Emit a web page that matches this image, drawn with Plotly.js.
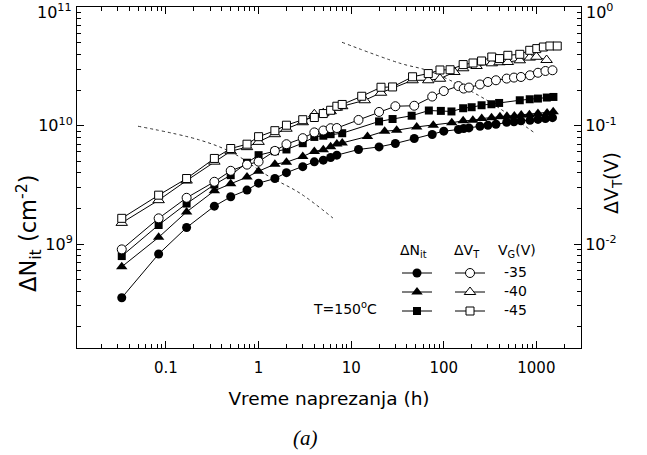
<!DOCTYPE html>
<html><head><meta charset="utf-8">
<script src="https://cdn.plot.ly/plotly-3.0.1.min.js"></script>
<style>html,body{margin:0;padding:0;background:#fff}#chart{width:647px;height:455px}</style>
</head><body><div id="chart"></div>
<script>
// ---- data (stress time in hours) ----
const t35 = [0.0333,0.0833,0.167,0.333,0.5,0.75,1,1.5,2,3,4,5,6,7,12,20,30,48,75,100,144,164,187,246,300,366,478,573,682,853,1041,1253,1493];
const nit35 = [3.52e8,8.24e8,1.38e9,2.09e9,2.51e9,2.86e9,3.27e9,3.58e9,4.01e9,4.51e9,4.95e9,5.12e9,5.39e9,5.64e9,6.30e9,6.62e9,7.08e9,7.80e9,8.43e9,8.99e9,9.29e9,9.47e9,9.58e9,9.90e9,1.01e10,1.03e10,1.07e10,1.08e10,1.10e10,1.11e10,1.13e10,1.15e10,1.17e10];
const vt35 = [9.02e-3,1.65e-2,2.46e-2,3.36e-2,4.16e-2,4.69e-2,4.97e-2,6.13e-2,6.98e-2,7.85e-2,8.78e-2,9.11e-2,9.53e-2,9.56e-2,0.1119,0.1307,0.1461,0.1475,0.1764,0.1963,0.2163,0.2060,0.2101,0.2231,0.2342,0.2421,0.2502,0.2551,0.2581,0.2668,0.2802,0.2901,0.2941];

const t40N = [0.0333,0.0833,0.167,0.333,0.5,0.75,1,1.5,2,3,4,5,6,7,8,15,23,31,51,77,122,162,206,257,328,404,481,578,686,841,1040,1305,1520];
const nit40 = [6.43e8,1.14e9,1.87e9,2.82e9,3.23e9,3.68e9,4.13e9,4.73e9,4.92e9,5.50e9,6.07e9,6.27e9,6.63e9,7.02e9,7.16e9,8.11e9,8.99e9,9.16e9,9.77e9,1.01e10,1.06e10,1.10e10,1.11e10,1.15e10,1.17e10,1.19e10,1.20e10,1.21e10,1.23e10,1.24e10,1.27e10,1.28e10,1.31e10];

const t40V = [0.0333,0.0833,0.167,0.333,0.5,0.75,1,1.5,2,3,4,5,6,7,8,14,21,46,68,91,130,162,226,330,400,492,662,848,1000,1290];
const vt40 = [1.51e-2,2.35e-2,3.44e-2,4.97e-2,6.09e-2,6.59e-2,7.30e-2,8.48e-2,9.43e-2,0.107,0.125,0.1275,0.1326,0.1419,0.1461,0.1641,0.1899,0.2421,0.2421,0.2493,0.2844,0.3057,0.3196,0.3368,0.3435,0.3455,0.3571,0.3764,0.3823,0.3592];

const t45N = [0.0333,0.0833,0.167,0.333,0.5,0.75,1,1.5,2,3,4,5,6,8,20,28,45,69,93,121,162,200,256,327,396,662,848,1040,1296,1528];
const nit45 = [7.92e8,1.45e9,2.20e9,3.18e9,3.82e9,4.87e9,5.64e9,6.09e9,6.30e9,7.12e9,8.04e9,8.23e9,8.48e9,8.64e9,1.087e10,1.139e10,1.215e10,1.344e10,1.334e10,1.32e10,1.405e10,1.433e10,1.489e10,1.518e10,1.557e10,1.641e10,1.673e10,1.696e10,1.730e10,1.750e10];

const t45V = [0.0333,0.0833,0.167,0.333,0.5,0.75,1,1.5,2,3,4,5,6,7,8,13,21,28,46,68,91,117,162,207,256,330,400,492,662,848,1010,1190,1400,1680];
const vt45 = [1.65e-2,2.59e-2,3.58e-2,5.29e-2,6.42e-2,6.98e-2,8.08e-2,9.08e-2,0.101,0.1124,0.1173,0.1267,0.1351,0.1461,0.1512,0.1774,0.2113,0.2126,0.2591,0.2758,0.2958,0.2970,0.3285,0.3388,0.3523,0.3807,0.3691,0.3935,0.4012,0.4336,0.4482,0.4624,0.4714,0.4714];

// dotted guide curves (on the ΔNit axis)
const guide1T = [0.0499,0.233,0.53,1.23,2.8,6.35];
const guide1N = [9.9e9,7.56e9,5.87e9,3.82e9,2.69e9,1.66e9];
const guide2T = [7.96,33.7,65.9,117,293,482,966];
const guide2N = [5.07e10,3.37e10,2.94e10,2.42e10,1.64e10,1.27e10,8.65e9];

const vgLabels = ['-35','-40','-45'];
const xTickVals = [0.1,1,10,100,1000];
const xTickText = ['0.1','1','10','100','1000'];
const yTickVals = [1e9,1e10,1e11];
const yTickText = ['10<sup>9</sup>','10<sup>10</sup>','10<sup>11</sup>'];
const y2TickVals = [0.01,0.1,1];
const y2TickText = ['10<sup>-2</sup>','10<sup>-1</sup>','10<sup>0</sup>'];

// ---- helpers ----
function minorVals(lo, hi){
  const v=[];
  for(let d=Math.floor(lo); d<=Math.ceil(hi); d++){
    for(let k=2;k<=9;k++){ const x=k*Math.pow(10,d); const l=Math.log10(x); if(l>lo && l<hi) v.push(x); }
  }
  return v;
}
const FONT = '"DejaVu Sans", Verdana, sans-serif';
const XR=[-1.961,3.482], YR=[8.122,11.003], Y2R=[-2.878,0.003];
const PL=77, PT=7, PW=504, PH=341;
const px = (x)=> (x-PL)/PW;          // pixel -> paper x
const py = (y)=> (PT+PH-y)/PH;       // pixel -> paper y

function nitTrace(t,y,sym,size){
  return {x:t,y:y,type:'scatter',mode:'lines+markers',name:'',legend:'legend',
    line:{color:'#000',width:1},marker:{symbol:sym,size:size,color:'#000',line:{width:0}}};
}
function vtTrace(t,y,sym,size){
  return {x:t,y:y,yaxis:'y2',type:'scatter',mode:'lines+markers',name:'',legend:'legend2',
    line:{color:'#000',width:1},marker:{symbol:sym,size:size,color:'#fff',line:{color:'#000',width:1}}};
}
const guideStyle = {color:'#333',width:1,dash:'dot',shape:'spline'};
const data = [
  {x:guide1T,y:guide1N,type:'scatter',mode:'lines',line:guideStyle,showlegend:false,hoverinfo:'skip'},
  {x:guide2T,y:guide2N,type:'scatter',mode:'lines',line:guideStyle,showlegend:false,hoverinfo:'skip'},
  nitTrace(t35,nit35,'circle',9),
  nitTrace(t40N,nit40,'triangle-up',10),
  nitTrace(t45N,nit45,'square',8),
  vtTrace(t35,vt35,'circle',9),
  vtTrace(t40V,vt40,'triangle-up',10),
  vtTrace(t45V,vt45,'square',8)
];

const axCommon = {type:'log',showgrid:false,zeroline:false,showline:true,linecolor:'#000',linewidth:1,
  ticks:'inside',ticklen:7,tickwidth:1,tickcolor:'#000',tickfont:{family:FONT,size:15,color:'#000'},ticklabeloverflow:'allow'};
const minorStyle = {tickmode:'array',ticks:'inside',ticklen:4,tickcolor:'#000',showgrid:false};

function note(x,y,text,size,extra){
  return Object.assign({xref:'paper',yref:'paper',x:px(x),y:py(y),text:text,showarrow:false,
    xanchor:'center',yanchor:'middle',font:{family:FONT,size:size,color:'#000'}},extra||{});
}
// the top decade labels sit at the very edge of the figure; they are drawn
// a few pixels lower (as in the original) so that they stay fully visible
const yTickShown = yTickText.slice(0,2).concat(['']);
const y2TickShown = y2TickText.slice(0,2).concat(['']);

const layout = {
  width:647,height:455,margin:{l:77,r:66,t:7,b:107},
  paper_bgcolor:'#fff',plot_bgcolor:'#fff',font:{family:FONT,color:'#000'},
  xaxis:Object.assign({},axCommon,{range:XR,tickmode:'array',tickvals:xTickVals,ticktext:xTickText,mirror:'ticks',
    ticklabelstandoff:6,
    minor:Object.assign({tickvals:minorVals(XR[0],XR[1])},minorStyle),
    title:{text:'Vreme naprezanja (h)',font:{family:FONT,size:18.5,color:'#000'},standoff:16}}),
  yaxis:Object.assign({},axCommon,{range:YR,tickmode:'array',tickvals:yTickVals,ticktext:yTickShown,
    tickfont:{family:FONT,size:16,color:'#000'},
    minor:Object.assign({tickvals:minorVals(YR[0],YR[1])},minorStyle)}),
  yaxis2:Object.assign({},axCommon,{range:Y2R,overlaying:'y',side:'right',tickmode:'array',tickvals:y2TickVals,ticktext:y2TickShown,
    tickfont:{family:FONT,size:16,color:'#000'},
    minor:Object.assign({tickvals:minorVals(Y2R[0],Y2R[1])},minorStyle)}),
  legend:{x:px(397),y:py(258.5),xanchor:'left',yanchor:'top',bgcolor:'rgba(0,0,0,0)',font:{family:FONT,size:11},tracegroupgap:0},
  legend2:{x:px(450),y:py(258.5),xanchor:'left',yanchor:'top',bgcolor:'rgba(0,0,0,0)',font:{family:FONT,size:11},tracegroupgap:0},
  showlegend:true,
  annotations:[
    note(74,12,yTickText[2],16,{xanchor:'right'}),
    note(584,12,y2TickText[2],16,{xanchor:'left'}),
    note(28,233,'ΔN<sub>it</sub> (cm<sup>-2</sup>)',22.5,{textangle:-90}),
    note(612,183,'ΔV<sub>T</sub>(V)',19,{textangle:-90}),
    note(413,251,'ΔN<sub>it</sub>',14),
    note(467,251,'ΔV<sub>T</sub>',14),
    note(517,251,'V<sub>G</sub>(V)',14),
    note(502,271.7,vgLabels[0],14,{xanchor:'left'}),
    note(502,290.7,vgLabels[1],14,{xanchor:'left'}),
    note(502,310,vgLabels[2],14,{xanchor:'left'}),
    note(311,308,'T=150<sup>o</sup>C',14,{xanchor:'left'}),
    note(305,438,'<i>(a)</i>',21,{font:{family:'"Liberation Serif", "Times New Roman", serif',size:21,color:'#000'}})
  ]
};
Plotly.newPlot('chart',data,layout,{staticPlot:true});
</script></body></html>
